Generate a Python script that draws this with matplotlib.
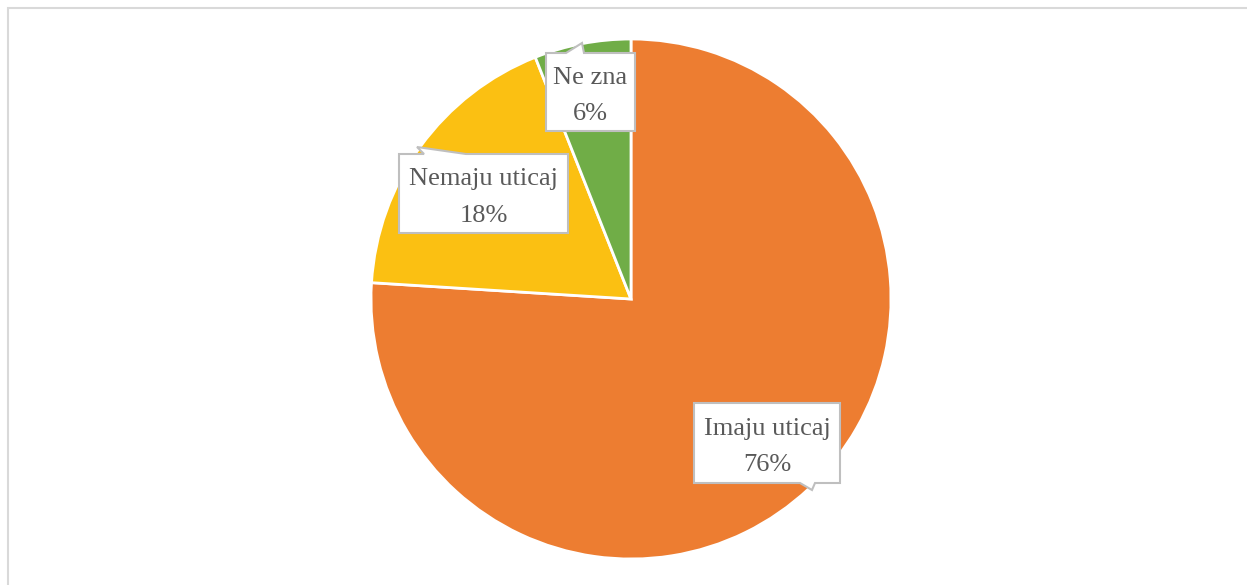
import matplotlib.pyplot as plt
from matplotlib.patches import Polygon, Rectangle

# data
labels = ["Imaju uticaj", "Nemaju uticaj", "Ne zna"]
values = [76, 18, 6]
colors = ["#ED7D31", "#FBC012", "#70AD47"]

W, H = 1247, 585
fig = plt.figure(figsize=(W / 100, H / 100), dpi=100)
ax = fig.add_axes([0, 0, 1, 1])

# chart border (only top/left visible in the reference)
ax.add_patch(Rectangle((8, -20), W + 40, H - 8 + 20, fill=False,
                       edgecolor="#D9D9D9", linewidth=1.5))

# pie, center/radius in pixel units
cx, cy, r = 631, H - 299, 260
ax.pie(values, colors=colors, startangle=90, counterclock=False,
       center=(cx, cy), radius=r, frame=True,
       wedgeprops=dict(edgecolor="white", linewidth=2))
ax.set_xlim(0, W)
ax.set_ylim(0, H)
ax.set_aspect("equal")
ax.axis("off")


def callout(x0, y0, x1, y1, ptr, text):
    # box given in top-down pixel coords, ptr = (side, base_a, base_b, tip)
    side, a, b, tip = ptr
    if side == "top":
        pts = [(x0, y0), (a, y0), tip, (b, y0), (x1, y0), (x1, y1), (x0, y1)]
    else:
        pts = [(x0, y0), (x1, y0), (x1, y1), (b, y1), tip, (a, y1), (x0, y1)]
    pts = [(px, H - py) for px, py in pts]
    ax.add_patch(Polygon(pts, closed=True, facecolor="white",
                         edgecolor="#BFBFBF", linewidth=1.5, zorder=5))
    ax.text((x0 + x1) / 2, H - (y0 + y1) / 2 - 4, text, ha="center", va="center",
            fontsize=19, family="Liberation Serif", color="#595959",
            linespacing=1.85, zorder=6)


callout(546, 53, 635, 131, ("top", 566, 584, (582, 43)),
        labels[2] + "\n" + f"{values[2]}%")
callout(399, 154, 568, 233, ("top", 424, 466, (417, 147)),
        labels[1] + "\n" + f"{values[1]}%")
callout(694, 403, 840, 483, ("bottom", 800, 815, (812, 490)),
        labels[0] + "\n" + f"{values[0]}%")

fig.savefig("out.png", dpi=100)
